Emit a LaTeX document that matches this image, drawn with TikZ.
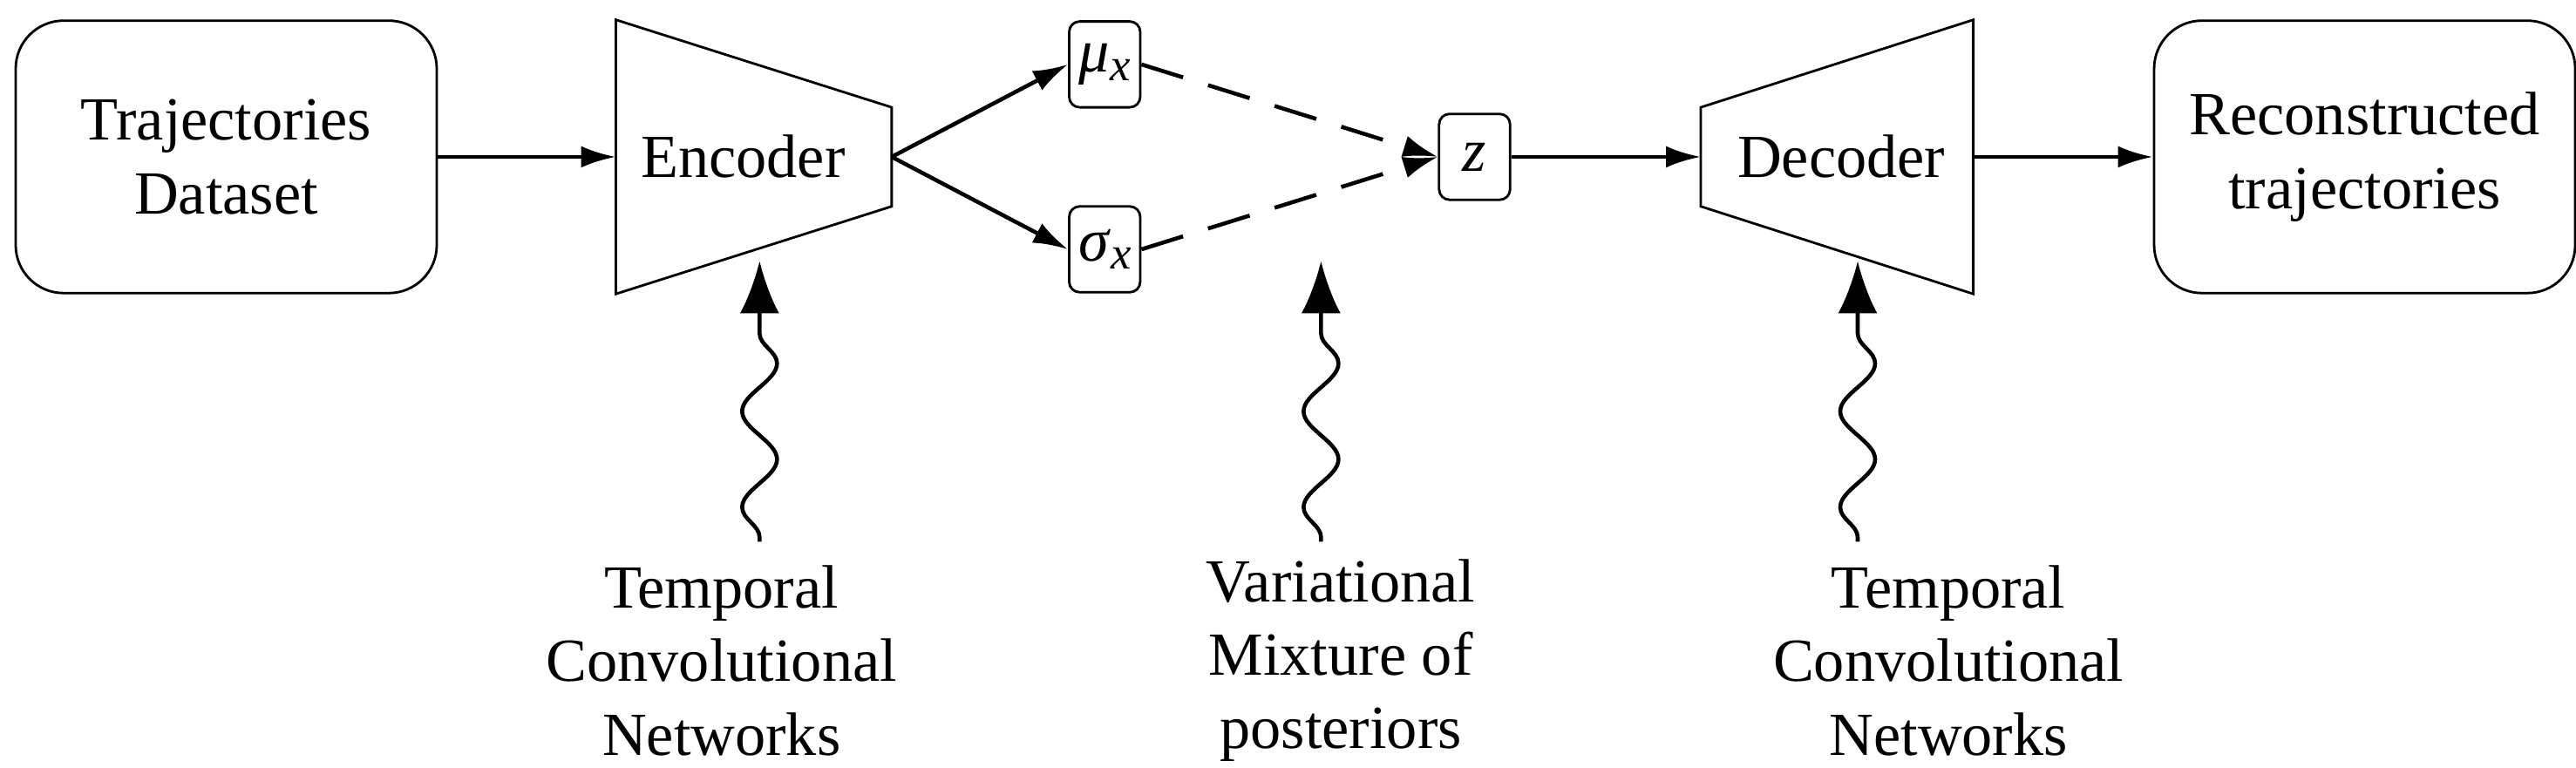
\documentclass[tikz,border=0pt]{standalone}
\usepackage{fontspec}
\setmainfont{Liberation Serif}
\usetikzlibrary{arrows.meta,decorations.pathmorphing}
\newcommand{\mysub}[2]{\textit{#1}\raisebox{-0.3ex}{\fontsize{15}{15}\selectfont\textit{#2}}}
\begin{document}
\begin{tikzpicture}[x=0.01894cm,y=-0.01894cm,
  every node/.style={font=\fontsize{20}{24}\selectfont,align=center},
  rbox/.style={draw,line width=0.8pt,rounded corners=0.55cm,minimum width=255*0.01894cm,minimum height=165*0.01894cm},
  sbox/.style={draw,line width=0.8pt,rounded corners=0.12cm,minimum width=43*0.01894cm,minimum height=52*0.01894cm,inner sep=0pt},
  arr/.style={line width=1.3pt,-{Latex[length=0.4cm,width=0.25cm]}},
  darr/.style={arr,dash pattern=on 0.5cm off 0.3cm},
  snk/.style={line width=1.3pt,-{Latex[length=0.6cm,width=0.45cm]},decorate,decoration={snake,amplitude=0.2cm,segment length=1.1cm,pre length=0.05cm,post length=0.6cm}}]
\useasboundingbox (0,0) rectangle (1560,465);
\node[rbox] (data) at (137,95) {Trajectories\\Dataset};
\node[rbox] (rec) at (1432,95) {Reconstructed\\trajectories};
% encoder
\draw[line width=0.8pt] (373,12) -- (540,65) -- (540,125) -- (373,178) -- cycle;
\coordinate (encL) at (373,95); \coordinate (encR) at (540,95);
\node (enc) at (450,95) {Encoder};
% decoder
\draw[line width=0.8pt] (1030,65) -- (1195,12) -- (1195,178) -- (1030,125) -- cycle;
\coordinate (decL) at (1030,95); \coordinate (decR) at (1195,95);
\node (dec) at (1115,95) {Decoder};
\node[sbox] (mu) at (669,39) {\mysub{μ}{x}};
\node[sbox] (sig) at (669,151) {\mysub{σ}{x}};
\node[sbox] (z) at (893,95) {\textit{z}};
\draw[arr] (data.east) -- (encL);
\draw[arr] (encR) -- (mu.west);
\draw[arr] (encR) -- (sig.west);
\draw[darr] (mu.east) -- (z.west);
\draw[darr] (sig.east) -- (z.west);
\draw[arr] (z.east) -- (decL);
\draw[arr] (decR) -- (rec.west);
\node (t1) at (437,400) {Temporal\\Convolutional\\Networks};
\node (t2) at (812,400) {Variational\\Mixture of\\posteriors};
\node (t3) at (1180,400) {Temporal\\Convolutional\\Networks};
\coordinate (a1) at (460,328); \coordinate (b1) at (460,158);
\coordinate (a2) at (800,328); \coordinate (b2) at (800,158);
\coordinate (a3) at (1125,328); \coordinate (b3) at (1125,158);
\draw[snk] (a1) -- (b1);
\draw[snk] (a2) -- (b2);
\draw[snk] (a3) -- (b3);
\end{tikzpicture}
\end{document}
